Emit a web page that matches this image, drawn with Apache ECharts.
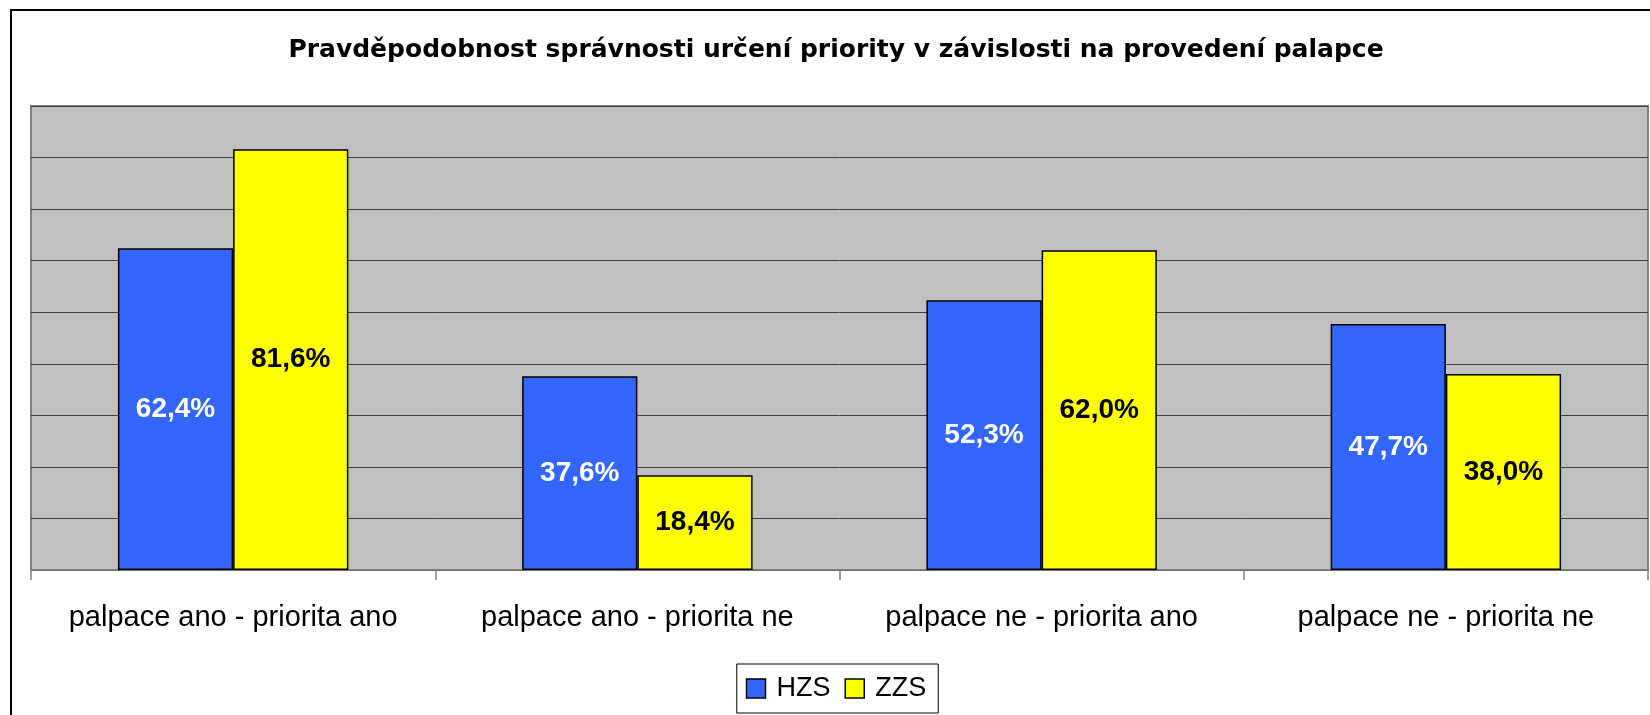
<!DOCTYPE html>
<html>
<head>
<meta charset="utf-8">
<script src="https://cdn.jsdelivr.net/npm/echarts@6/dist/echarts.min.js"></script>
<style>
    html, body {
        margin: 0;
        padding: 0;
        background: #fff;
        overflow: hidden;
        width: 1650px;
        height: 715px;
    }
    #chart {
        position: absolute;
        left: 10px;
        top: 9px;
        width: 1648px;
        height: 720px;
        border-left: 2px solid #000;
        border-top: 2px solid #000;
    }
</style>
</head>
<body>
<div id="chart"></div>
<script>
// data
const titleText = 'Pravděpodobnost správnosti určení priority v závislosti na provedení palapce';
const categories = [
    'palpace ano - priorita ano',
    'palpace ano - priorita ne',
    'palpace ne - priorita ano',
    'palpace ne - priorita ne'
];
const hzsValues = [62.4, 37.6, 52.3, 47.7];
const zzsValues = [81.6, 18.4, 62.0, 38.0];
const seriesNames = ['HZS', 'ZZS'];

const fontFamily = '"Liberation Sans", Arial, sans-serif';

let pctFormatter = function(p) {
    return p.value.toFixed(1).replace('.', ',') + '%';
};

let chart = echarts.init(document.getElementById('chart'));
let option = {
    animation: false,
    textStyle: {
        fontFamily: fontFamily
    },
    title: {
        text: titleText,
        left: 'center',
        top: 27,
        padding: 0,
        textStyle: {
            fontFamily: '"DejaVu Sans", sans-serif',
            fontSize: 25,
            fontWeight: 'bold',
            color: '#000'
        }
    },
    legend: {
        data: seriesNames,
        left: 'center',
        top: 653,
        padding: [11, 12, 11, 9],
        itemWidth: 19,
        itemHeight: 19,
        itemGap: 14,
        borderColor: '#000',
        borderWidth: 1,
        backgroundColor: '#fff',
        icon: 'rect',
        itemStyle: {
            borderColor: '#000',
            borderWidth: 1.5
        },
        textStyle: {
            fontSize: 27,
            color: '#000',
            padding: [0, 0, 0, 6]
        }
    },
    grid: {
        left: 19,
        top: 95,
        width: 1617,
        height: 464,
        show: true,
        backgroundColor: '#c0c0c0',
        borderColor: '#808080',
        borderWidth: 2
    },
    xAxis: {
        type: 'category',
        data: categories,
        axisLine: {
            lineStyle: {
                color: '#808080',
                width: 1.5
            }
        },
        axisTick: {
            show: true,
            interval: 0,
            length: 10,
            inside: false,
            lineStyle: {
                color: '#808080',
                width: 1.5
            }
        },
        axisLabel: {
            interval: 0,
            fontSize: 29,
            color: '#000',
            margin: 33
        }
    },
    yAxis: {
        type: 'value',
        min: 0,
        max: 90,
        interval: 10,
        axisLabel: {show: false},
        axisLine: {show: false},
        axisTick: {show: false},
        splitLine: {
            show: true,
            lineStyle: {
                color: '#404040',
                width: 1
            }
        }
    },
    series: [
        {
            name: seriesNames[0],
            type: 'bar',
            data: hzsValues,
            barGap: '0%',
            barCategoryGap: '43%',
            itemStyle: {
                color: '#3366ff',
                borderColor: '#000',
                borderWidth: 1.5
            },
            label: {
                show: true,
                position: 'inside',
                formatter: pctFormatter,
                fontSize: 28,
                fontWeight: 'bold',
                color: '#fff'
            }
        },
        {
            name: seriesNames[1],
            type: 'bar',
            data: zzsValues,
            itemStyle: {
                color: '#ffff00',
                borderColor: '#000',
                borderWidth: 1.5
            },
            label: {
                show: true,
                position: 'inside',
                formatter: pctFormatter,
                fontSize: 28,
                fontWeight: 'bold',
                color: '#000'
            }
        }
    ]
};
chart.setOption(option);
</script>
</body>
</html>
